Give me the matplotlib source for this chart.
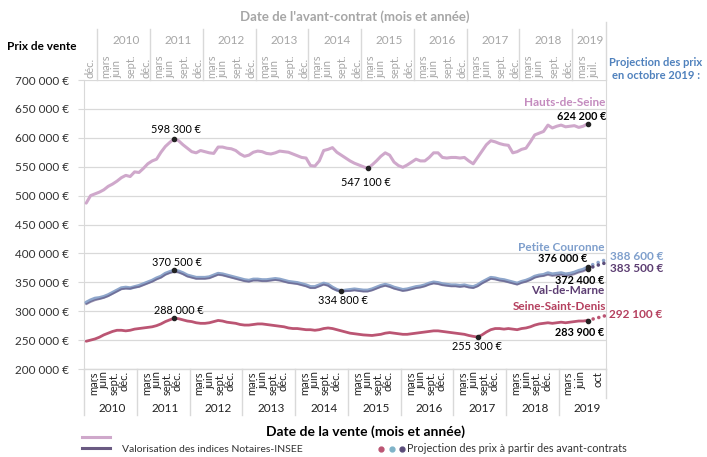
import numpy as np
import matplotlib
matplotlib.use("Agg")
import matplotlib.pyplot as plt
import matplotlib.transforms as mtransforms

plt.rcParams['font.family'] = ['Lato', 'DejaVu Sans']

# months counted from january 2010 (0 = janv. 2010), last observed = juil. 2019
hauts_de_seine = [
    487, 500, 503, 506, 510, 516, 520, 525, 531, 535, 533, 541,
    540, 547, 555, 560, 563, 575, 585, 592, 598.3, 595, 588, 582,
    576, 574, 578, 576, 574, 573, 584, 584, 582, 581, 578, 572,
    568, 570, 575, 577, 576, 573, 572, 574, 577, 576, 575, 572,
    569, 566, 565, 552, 551, 560, 578, 580, 583, 575, 570, 565,
    560, 556, 553, 550, 547.1, 553, 560, 568, 574, 570, 558, 552,
    549, 553, 558, 563, 560, 560, 566, 574, 574, 566, 565, 566,
    566, 565, 566, 560, 555, 566, 577, 588, 595, 593, 590, 588,
    587, 574, 576, 580, 582, 593, 605, 608, 611, 622, 617, 620,
    622, 619, 620, 621, 618, 620, 624.2]

petite_couronne = [
    315, 319, 322, 323, 325, 328, 332, 336, 340, 341, 340, 342,
    344, 347, 350, 353, 357, 360, 365, 368, 370.5, 369, 366, 362,
    360, 358, 358, 358, 359, 362, 365, 364, 362, 360, 358, 356,
    354, 353, 355, 355, 354, 354, 355, 356, 355, 353, 351, 350,
    349, 347, 345, 342, 342, 345, 348, 346, 341, 337, 334.8, 336,
    337, 338, 337, 336, 336, 338, 341, 344, 346, 344, 341, 339,
    337, 338, 340, 342, 343, 345, 348, 350, 349, 347, 346, 345,
    345, 344, 345, 343, 342, 345, 350, 354, 358, 357, 355, 354,
    352, 350, 348, 351, 353, 356, 360, 362, 363, 366, 364, 365,
    366, 364, 365, 367, 370, 372, 376]

val_de_marne = [
    312, 316, 319, 321, 323, 326, 330, 334, 338, 339, 339, 341,
    342, 345, 348, 351, 355, 358, 363, 366, 368, 367, 364, 360,
    358, 356, 356, 356, 357, 360, 363, 362, 360, 358, 356, 354,
    352, 351, 353, 353, 352, 352, 353, 354, 353, 351, 349, 348,
    347, 345, 343, 340, 340, 343, 346, 344, 339, 336, 334, 335,
    335, 336, 335, 334, 334, 336, 339, 342, 344, 342, 339, 337,
    335, 336, 338, 340, 341, 343, 346, 348, 347, 345, 344, 343,
    343, 342, 343, 341, 340, 343, 348, 352, 356, 355, 353, 352,
    350, 348, 346, 349, 351, 354, 358, 360, 361, 363, 361, 362,
    363, 361, 362, 364, 367, 369, 372.4]

seine_saint_denis = [
    248, 250, 252, 255, 259, 262, 265, 267, 267, 266, 267, 269,
    270, 271, 272, 273, 275, 278, 282, 285, 288, 287, 285, 283,
    282, 280, 279, 279, 280, 282, 284, 283, 281, 280, 279, 277,
    276, 276, 277, 278, 278, 277, 276, 275, 274, 273, 271, 270,
    270, 269, 268, 268, 267, 268, 270, 271, 270, 268, 266, 264,
    262, 261, 260, 259, 258.5, 258, 259, 260, 262, 263, 262, 261,
    260, 260, 261, 262, 263, 264, 265, 266, 266, 265, 264, 263,
    262, 261, 260, 258, 256.5, 255.3, 259, 264, 268, 270, 270, 269,
    270, 269, 268, 270, 271, 273, 276, 278, 279, 280, 279, 280,
    281, 280, 281, 282, 283, 283, 283.9]

# projection from the avant-contrats, juil. -> oct. 2019
proj_months = [114, 115, 116, 117, 118]
proj_petite_couronne = [376, 380, 383, 386, 388.6]
proj_val_de_marne = [372.4, 376, 379, 381, 383.5]
proj_seine_saint_denis = [283.9, 286, 288, 290, 292.1]

years = list(range(2010, 2020))
y_ticks = list(range(200000, 700001, 50000))

c_pink = '#cfa8cb'
c_blue = '#8ea6cb'
c_purple = '#5b4d7a'
c_red = '#bb5573'
c_grid = '#d9d9d9'
c_grey = '#a6a6a6'

W, H = 707, 457
fig = plt.figure(figsize=(W / 100, H / 100), dpi=100)
ax = fig.add_axes([84 / W, 1 - 369 / H, (606 - 84) / W, (369 - 80) / H])

m = np.arange(len(hauts_de_seine))
k = 1000
ax.plot(m, np.array(hauts_de_seine) * k, color=c_pink, lw=2.2, solid_capstyle='round', zorder=3)
ax.plot(m, np.array(petite_couronne) * k, color=c_blue, lw=2.6, solid_capstyle='round', zorder=3)
ax.plot(m, np.array(val_de_marne) * k, color=c_purple, lw=1.4, alpha=0.6, solid_capstyle='round', zorder=3)
ax.plot(m, np.array(seine_saint_denis) * k, color=c_red, lw=2.0, solid_capstyle='round', zorder=3)

dots = (0, (0.01, 1.6))
ax.plot(proj_months, np.array(proj_petite_couronne) * k, color=c_blue, lw=2.6, ls=dots, dash_capstyle='round', zorder=3)
ax.plot(proj_months, np.array(proj_val_de_marne) * k, color=c_purple, lw=2.6, ls=dots, dash_capstyle='round', zorder=3)
ax.plot(proj_months, np.array(proj_seine_saint_denis) * k, color=c_red, lw=2.6, ls=dots, dash_capstyle='round', zorder=3)

ax.set_xlim(-0.5, 118.2)
ax.set_ylim(200000, 700000)
ax.set_yticks(y_ticks)
ax.set_yticklabels([f"{v // 1000} 000 €" for v in y_ticks], fontsize=8.5, color='#333333')
ax.tick_params(axis='y', length=4, color=c_grid, pad=7)
ax.set_xticks([])
ax.grid(axis='y', color=c_grid, lw=0.9)
ax.set_axisbelow(True)
for s in ['top', 'bottom']:
    ax.spines[s].set_visible(False)
for s in ['left', 'right']:
    ax.spines[s].set_color(c_grid)


def ftext(x, y, s, **kw):
    fig.text(x / W, 1 - y / H, s, **kw)


# marked points: peaks, lows and last values, label placed in pixels
def mark(serie, i, text, x, y, bold=False):
    ax.plot(i, serie[i] * k, 'o', ms=3, color='#222222', zorder=4)
    ftext(x, y, text, ha='center', va='center', fontsize=7.8, color='black',
          fontweight='bold' if bold else 'normal')


mark(hauts_de_seine, 20, "598 300 €", 176, 130)
mark(hauts_de_seine, 64, "547 100 €", 366, 182)
mark(hauts_de_seine, 114, "624 200 €", 582, 117, bold=True)
mark(petite_couronne, 20, "370 500 €", 177, 263)
mark(petite_couronne, 58, "334 800 €", 343, 300)
mark(petite_couronne, 114, "376 000 €", 563, 259, bold=True)
mark(val_de_marne, 114, "372 400 €", 580, 281, bold=True)
mark(seine_saint_denis, 20, "288 000 €", 179, 310)
mark(seine_saint_denis, 89, "255 300 €", 477, 347)
mark(seine_saint_denis, 114, "283 900 €", 580, 332, bold=True)

ftext(605, 103, "Hauts-de-Seine", ha='right', va='center', fontsize=8.5, fontweight='bold', color='#c48bbf')
ftext(604, 247, "Petite Couronne", ha='right', va='center', fontsize=8.5, fontweight='bold', color='#7f9fcc')
ftext(604, 291, "Val-de-Marne", ha='right', va='center', fontsize=8.5, fontweight='bold', color='#5c3d72')
ftext(606, 307, "Seine-Saint-Denis", ha='right', va='center', fontsize=8.5, fontweight='bold', color='#b5405f')
ftext(610, 256, "388 600 €", ha='left', va='center', fontsize=8.5, fontweight='bold', color='#7f9fcc')
ftext(610, 268, "383 500 €", ha='left', va='center', fontsize=8.5, fontweight='bold', color='#5c3d72')
ftext(609, 315, "292 100 €", ha='left', va='center', fontsize=8.5, fontweight='bold', color='#b5405f')
ftext(656, 62, "Projection des prix", ha='center', va='center', fontsize=8, fontweight='bold', color='#4f81bd')
ftext(656, 76, "en octobre 2019 :", ha='center', va='center', fontsize=8, fontweight='bold', color='#4f81bd')
ftext(42, 47, "Prix de vente", ha='center', va='center', fontsize=8.5, fontweight='bold', color='black')

# bottom axis: date de la vente
trans = mtransforms.blended_transform_factory(ax.transData, ax.transAxes)
bottom_months = ["mars", "juin", "sept.", "déc."]
bottom_offsets = [1.7, 4.1, 6.4, 8.7]
for j, y in enumerate(years):
    start = j * 12
    if y == 2019:
        labels, offs = ["mars", "juin", "oct"], [1.5, 4.5, 8.3]
    else:
        labels, offs = bottom_months, bottom_offsets
    for lab, o in zip(labels, offs):
        ax.text(start + o, -0.008, lab, rotation=90, ha='center', va='top', fontsize=8,
                color='#222222', transform=trans)
    ax.text(start + 6, -0.135, str(y), ha='center', va='center', fontsize=8.5, color='#222222', transform=trans)
    ax.plot([start - 0.5, start - 0.5], [0, -0.16], color=c_grid, lw=1, transform=trans, clip_on=False)
ax.plot([-0.5, 118.2], [0, 0], color=c_grid, lw=1, transform=trans, clip_on=False)
ax.plot([118.2, 118.2], [0, -0.1], color=c_grid, lw=1, transform=trans, clip_on=False)

# top axis: date de l'avant-contrat (3 months earlier)
top_offsets = [1.5, 4.0, 7.3, 10.5]
ax.text(0.9, 1.008, "déc.", rotation=90, ha='center', va='bottom', fontsize=8, color=c_grey, transform=trans)
for j, y in enumerate(years):
    start = j * 12 + 3
    if y == 2019:
        labels, offs = ["mars", "juil."], [1.7, 4.5]
        center = start + 3.5
    else:
        labels, offs = bottom_months, top_offsets
        center = start + 6
    for lab, o in zip(labels, offs):
        ax.text(start + o, 1.008, lab, rotation=90, ha='center', va='bottom', fontsize=8,
                color=c_grey, transform=trans)
    ax.text(center, 1.138, str(y), ha='center', va='center', fontsize=8.5, color=c_grey, transform=trans)
    ax.plot([start - 0.5, start - 0.5], [1, 1.175], color=c_grid, lw=1, transform=trans, clip_on=False)
ax.plot([118.2, 118.2], [1, 1.2], color=c_grid, lw=1, transform=trans, clip_on=False)

ftext(355, 17, "Date de l'avant-contrat (mois et année)", ha='center', va='center', fontsize=9.5,
      fontweight='bold', color=c_grey)
ftext(366, 432, "Date de la vente (mois et année)", ha='center', va='center', fontsize=10,
      fontweight='bold', color='black')

# legend
fig.lines.append(plt.Line2D([82 / W, 110 / W], [1 - 437 / H] * 2, color=c_pink, lw=2.2, transform=fig.transFigure))
fig.lines.append(plt.Line2D([82 / W, 110 / W], [1 - 448 / H] * 2, color='#6a5a82', lw=2.2, transform=fig.transFigure))
ftext(122, 449, "Valorisation des indices Notaires-INSEE", ha='left', va='center', fontsize=7.5, color='#333333')
for xd, c in zip([381, 392, 402], [c_red, '#7fb3c8', c_purple]):
    fig.lines.append(plt.Line2D([xd / W], [1 - 449 / H], marker='o', ms=3.5, color=c, transform=fig.transFigure))
ftext(407, 449, "Projection des prix à partir des avant-contrats", ha='left', va='center', fontsize=7.8,
      color='#333333')

fig.savefig("out.png", dpi=100)
